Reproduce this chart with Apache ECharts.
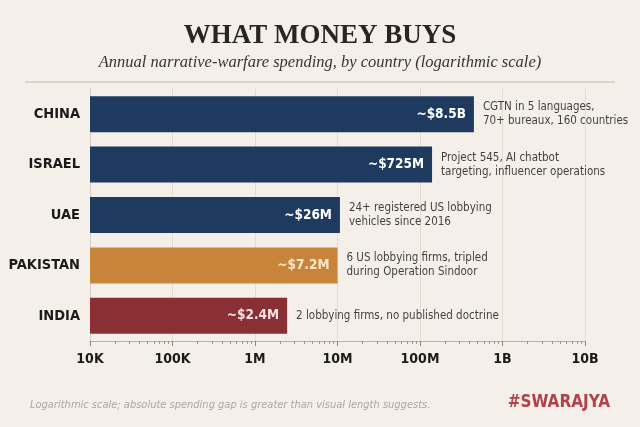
<!DOCTYPE html>
<html>
<head>
<meta charset="utf-8">
<script src="https://cdn.jsdelivr.net/npm/echarts@6/dist/echarts.min.js"></script>
<style>
  html, body { margin: 0; padding: 0; background: #f5efe9; }
  #chart { width: 640px; height: 427px; }
</style>
</head>
<body>
<div id="chart"></div>
<script>
// data (bar lengths as drawn on the log axis)
var countries = ['CHINA', 'ISRAEL', 'UAE', 'PAKISTAN', 'INDIA'];
var barValues = [4.5e8, 1.4e8, 1.07e7, 1.0e7, 2.45e6];
var amountLabels = ['~$8.5B', '~$725M', '~$26M', '~$7.2M', '~$2.4M'];
var notes = [
  'CGTN in 5 languages,\n70+ bureaux, 160 countries',
  'Project 545, AI chatbot\ntargeting, influencer operations',
  '24+ registered US lobbying\nvehicles since 2016',
  '6 US lobbying firms, tripled\nduring Operation Sindoor',
  '2 lobbying firms, no published doctrine'
];
var barColors = ['#1f3a5f', '#1f3a5f', '#1f3a5f', '#c9843b', '#8a3034'];
var labelColors = ['#ffffff', '#ffffff', '#ffffff', '#fbe9cf', '#f7e3e3'];
var tickLabels = { 1e4: '10K', 1e5: '100K', 1e6: '1M', 1e7: '10M', 1e8: '100M', 1e9: '1B', 1e10: '10B' };

var narrow = "'Liberation Sans Narrow', 'DejaVu Sans Condensed', Roboto, sans-serif";
var serif = "'Liberation Serif', 'DejaVu Serif', serif";

var chart = echarts.init(document.getElementById('chart'));

chart.setOption({
  backgroundColor: '#f5efe9',
  animation: false,
  title: [
    {
      text: 'WHAT MONEY BUYS',
      left: 'center', top: 18,
      textStyle: { fontFamily: serif, fontWeight: 'bold', fontSize: 27, color: '#2a2522' }
    },
    {
      text: 'Annual narrative-warfare spending, by country (logarithmic scale)',
      left: 'center', top: 49,
      textStyle: { fontFamily: serif, fontStyle: 'italic', fontWeight: 'normal', fontSize: 16.5, color: '#3a3532' }
    },
    {
      text: 'Logarithmic scale; absolute spending gap is greater than visual length suggests.',
      left: 25, top: 395,
      textStyle: { fontFamily: narrow, fontStyle: 'italic', fontWeight: 'normal', fontSize: 11, color: '#aca7a2' }
    },
    {
      text: '#SWARAJYA',
      right: 25, top: 389,
      textStyle: { fontFamily: narrow, fontWeight: 'bold', fontSize: 17, color: '#b0424a' }
    }
  ],
  graphic: [
    {
      type: 'line',
      shape: { x1: 25, y1: 82, x2: 615, y2: 82 },
      style: { stroke: '#dcd4cc', lineWidth: 2 }
    }
  ],
  grid: { left: 90, right: 55, top: 89, bottom: 86 },
  xAxis: {
    type: 'log',
    logBase: 10,
    min: 1e4,
    max: 1e10,
    axisLine: { show: true, lineStyle: { color: '#b9b2ab', width: 1 } },
    axisTick: { show: true, length: 5, lineStyle: { color: '#8d8680' } },
    minorTick: { show: true, splitNumber: 9, length: 3, lineStyle: { color: '#9d968f' } },
    splitLine: { show: true, lineStyle: { color: '#e4dbd1', width: 1 } },
    axisLabel: {
      margin: 11,
      fontFamily: narrow, fontWeight: 'bold', fontSize: 14, color: '#1b1b1b',
      formatter: function (v) { return tickLabels[Math.round(v)] || ''; }
    }
  },
  yAxis: {
    type: 'category',
    data: countries,
    inverse: true,
    axisLine: { show: true, lineStyle: { color: '#d6cec6' } },
    axisTick: { show: false },
    axisLabel: {
      margin: 10,
      fontFamily: narrow, fontWeight: 'bold', fontSize: 14.5, color: '#1b1b1b'
    }
  },
  series: [
    {
      type: 'bar',
      barWidth: 36,
      data: barValues.map(function (v, i) {
        return {
          value: v,
          itemStyle: { color: barColors[i] },
          label: { color: labelColors[i] }
        };
      }),
      label: {
        show: true,
        position: 'insideRight',
        distance: 8,
        fontFamily: narrow, fontWeight: 'bold', fontSize: 13.5,
        formatter: function (p) { return amountLabels[p.dataIndex]; }
      }
    },
    {
      type: 'scatter',
      symbolSize: 0,
      silent: true,
      data: barValues.map(function (v, i) { return [v, countries[i]]; }),
      label: {
        show: true,
        position: 'right',
        distance: 9,
        align: 'left',
        fontFamily: narrow, fontSize: 11.5, lineHeight: 14, color: '#111111',
        formatter: function (p) { return notes[p.dataIndex]; }
      }
    }
  ]
});
</script>
</body>
</html>
